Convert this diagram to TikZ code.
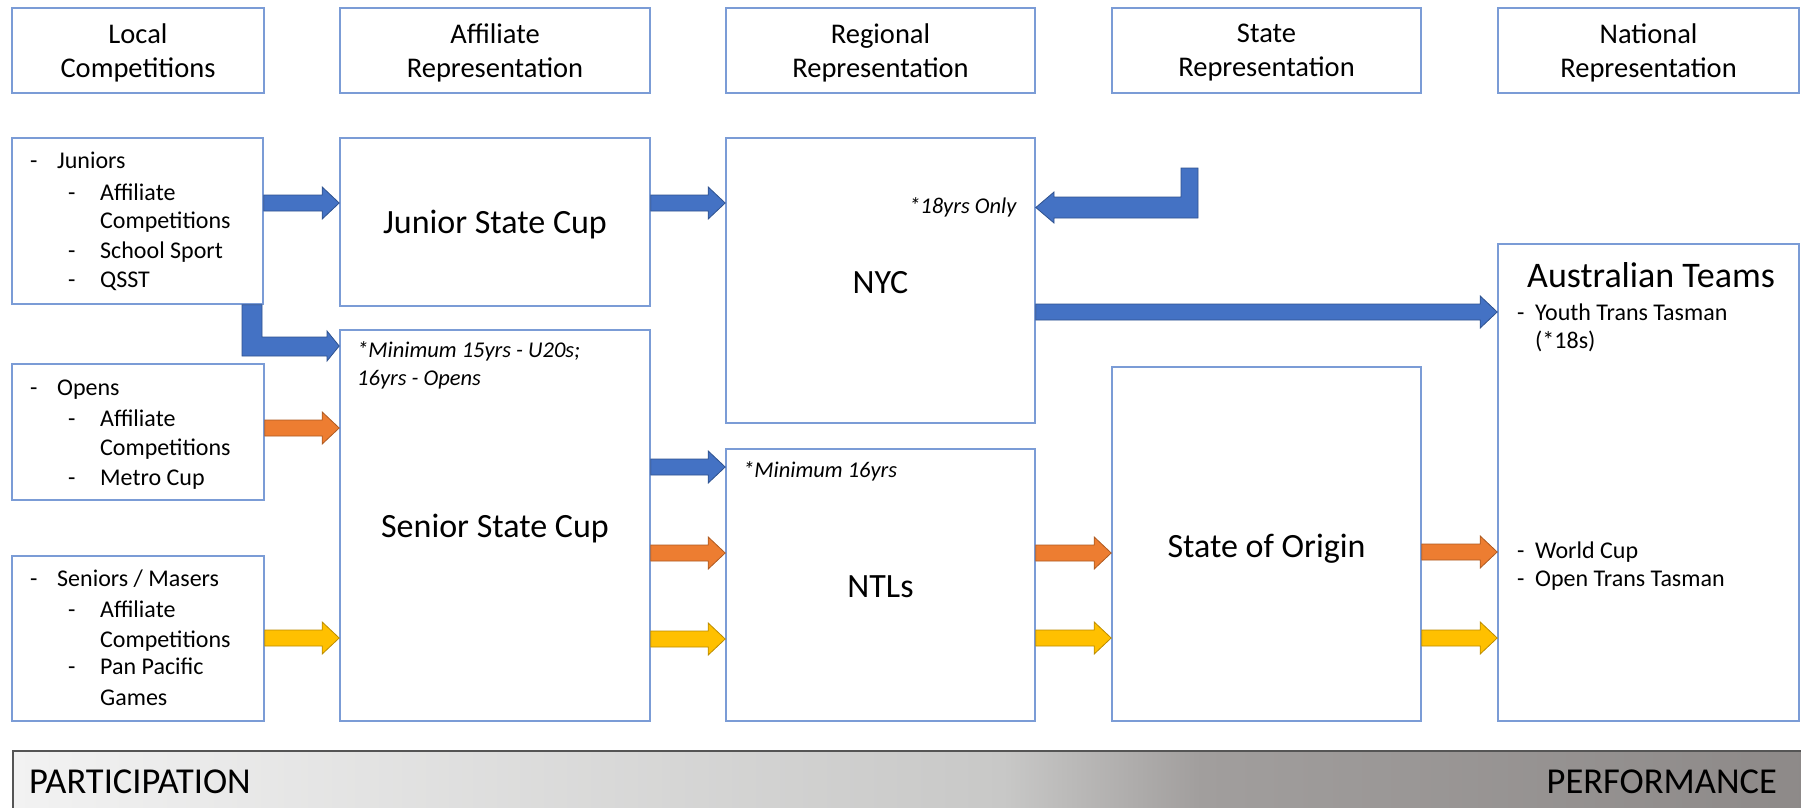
\documentclass[tikz,border=0pt]{standalone}
\usepackage{fontspec}
\setmainfont{Carlito}
\usetikzlibrary{calc}
\definecolor{boxc}{HTML}{7B9CD6}
\definecolor{ablue}{HTML}{4472C4}
\definecolor{ablueD}{HTML}{2F528F}
\definecolor{aor}{HTML}{ED7D31}
\definecolor{aorD}{HTML}{AE5A21}
\definecolor{aye}{HTML}{FFC000}
\definecolor{ayeD}{HTML}{BC8C00}
\definecolor{gA}{HTML}{F2F2F2}
\definecolor{gB}{HTML}{C8C8C7}
\definecolor{gC}{HTML}{A19E9D}
\definecolor{gD}{HTML}{8D8988}
\definecolor{barline}{HTML}{555555}
\pgfdeclarehorizontalshading{barshade}{100bp}{color(0bp)=(gA); color(25bp)=(gA); color(52.5bp)=(gB); color(58bp)=(gC); color(75bp)=(gD); color(100bp)=(gD)}
% block arrow: from point #1 to point #2 at height #3, fill #4, outline #5
\newcommand\blockarrow[5]{%
  \draw[draw=#5, fill=#4, line width=0.8pt, line join=miter]
    let \p1=(#1 |- 0,#3), \p2=(#2 |- 0,#3) in
    (\x1,\y1+8pt) -- (\x2-17pt,\y1+8pt) -- (\x2-17pt,\y1+16pt) -- (\x2,\y1)
    -- (\x2-17pt,\y1-16pt) -- (\x2-17pt,\y1-8pt) -- (\x1,\y1-8pt) -- cycle;}
\tikzset{
  box/.style={draw=boxc, line width=1.6pt, inner sep=0pt},
  hdrtext/.style={font=\fontsize{28.5}{34}\selectfont, align=center, inner sep=0pt},
  lbl/.style={font=\fontsize{34}{40}\selectfont, anchor=base, inner sep=0pt},
  item/.style={font=\fontsize{24}{28}\selectfont, anchor=base west, inner sep=0pt},
  note/.style={font=\fontsize{22.5}{27}\selectfont\itshape, anchor=base west, inner sep=0pt},
  bartext/.style={font=\fontsize{36.5}{42}\selectfont, inner sep=0pt},
  bentblue/.style={draw=ablueD, fill=ablue, line width=0.8pt, line join=miter}
}
\begin{document}
\begin{tikzpicture}[x=1pt,y=-1pt]
\useasboundingbox (0,0) rectangle (1801,808);
\clip (0,0) rectangle (1801,808);
\fill[white] (0,0) rectangle (1801,808);

% header boxes
\node[box, minimum width=252pt, minimum height=85pt] (h1) at (138,50.5) {};
\node[box, minimum width=310pt, minimum height=85pt] (h2) at (495,50.5) {};
\node[box, minimum width=309pt, minimum height=85pt] (h3) at (880.5,50.5) {};
\node[box, minimum width=309pt, minimum height=85pt] (h4) at (1266.5,50.5) {};
\node[box, minimum width=301pt, minimum height=85pt] (h5) at (1648.5,50.5) {};
\node[hdrtext] (h1t) at ([yshift=-2.5pt]h1.center) {Local\\Competitions};
\node[hdrtext] (h2t) at ([yshift=-2.5pt]h2.center) {Affiliate\\Representation};
\node[hdrtext] (h3t) at ([yshift=-2.5pt]h3.center) {Regional\\Representation};
\node[hdrtext] (h4t) at ([yshift=-2.5pt]h4.center) {State\\Representation};
\node[hdrtext] (h5t) at ([yshift=-2.5pt]h5.center) {National\\Representation};

% local competition boxes
\node[box, minimum width=251pt, minimum height=166pt] (jr) at (137.5,221) {};
\node[box, minimum width=252pt, minimum height=136pt] (op) at (138,432) {};
\node[box, minimum width=252pt, minimum height=165pt] (sn) at (138,638.5) {};

% affiliate
\node[box, minimum width=310pt, minimum height=168pt] (jsc) at (495,222) {};
\node[box, minimum width=310pt, minimum height=391pt] (ssc) at (495,525.5) {};

% regional
\node[box, minimum width=309pt, minimum height=285pt] (nyc) at (880.5,280.5) {};
\node[box, minimum width=309pt, minimum height=272pt] (ntl) at (880.5,585) {};

% state
\node[box, minimum width=309pt, minimum height=354pt] (soo) at (1266.5,544) {};

% national
\node[box, minimum width=301pt, minimum height=477pt] (aus) at (1648.5,482.5) {};

% main labels
\node[lbl] (jscl) at (jsc.center |- 0,233) {Junior State Cup};
\node[lbl] (sscl) at (ssc.center |- 0,537) {Senior State Cup};
\node[lbl] (nycl) at (nyc.center |- 0,293) {NYC};
\node[lbl] (ntll) at (ntl.center |- 0,597) {NTLs};
\node[lbl] (sool) at (soo.center |- 0,557) {State of Origin};
\node[lbl, font=\fontsize{36}{42}\selectfont] (ausl) at (1651,287) {Australian Teams};

% notes
\node[note] (n1) at (357,357) {*Minimum 15yrs - U20s;};
\node[note] (n2) at (357,385) {16yrs - Opens};
\node[note] (n3) at (909,213) {*18yrs Only};
\node[note] (n4) at (743,477) {*Minimum 16yrs};

% juniors list
\node[item] (j0d) at (30,168) {-};
\node[item] (j0) at (57,168) {Juniors};
\node[item] (j1d) at (68,200) {-};
\node[item] (j1) at (100,200) {Affiliate};
\node[item] (j1b) at (100,228) {Competitions};
\node[item] (j2d) at (68,258) {-};
\node[item] (j2) at (100,258) {School Sport};
\node[item] (j3d) at (68,287) {-};
\node[item] (j3) at (100,287) {QSST};

% opens list
\node[item] (o0d) at (30,395) {-};
\node[item] (o0) at (57,395) {Opens};
\node[item] (o1d) at (68,426) {-};
\node[item] (o1) at (100,426) {Affiliate};
\node[item] (o1b) at (100,455) {Competitions};
\node[item] (o2d) at (68,485) {-};
\node[item] (o2) at (100,485) {Metro Cup};

% seniors list
\node[item] (s0d) at (30,586) {-};
\node[item] (s0) at (57,586) {Seniors / Masers};
\node[item] (s1d) at (68,617) {-};
\node[item] (s1) at (100,617) {Affiliate};
\node[item] (s1b) at (100,647) {Competitions};
\node[item] (s2d) at (68,674) {-};
\node[item] (s2) at (100,674) {Pan Pacific};
\node[item] (s2b) at (100,705) {Games};

% australian teams list
\node[item] (a1d) at (1517,320) {-};
\node[item] (a1) at (1535,320) {Youth Trans Tasman};
\node[item] (a1b) at (1535,348) {(*18s)};
\node[item] (a2d) at (1517,558) {-};
\node[item] (a2) at (1535,558) {World Cup};
\node[item] (a3d) at (1517,586) {-};
\node[item] (a3) at (1535,586) {Open Trans Tasman};

% straight block arrows
\blockarrow{jr.east}{jsc.west}{203}{ablue}{ablueD}
\blockarrow{jsc.east}{nyc.west}{203}{ablue}{ablueD}
\blockarrow{op.east}{ssc.west}{428}{aor}{aorD}
\blockarrow{sn.east}{ssc.west}{638}{aye}{ayeD}
\blockarrow{ssc.east}{ntl.west}{467}{ablue}{ablueD}
\blockarrow{ssc.east}{ntl.west}{553}{aor}{aorD}
\blockarrow{ssc.east}{ntl.west}{639}{aye}{ayeD}
\blockarrow{ntl.east}{soo.west}{553}{aor}{aorD}
\blockarrow{ntl.east}{soo.west}{638}{aye}{ayeD}
\blockarrow{soo.east}{aus.west}{552}{aor}{aorD}
\blockarrow{soo.east}{aus.west}{638}{aye}{ayeD}
\blockarrow{nyc.east}{aus.west}{312}{ablue}{ablueD}

% bent arrow: juniors down to senior state cup
\draw[bentblue] (jr.south -| 242,0) -- (jr.south -| 262,0) -- (262,337) -- (327,337)
  -- (327,331) -- (ssc.west |- 0,346) -- (327,361) -- (327,356) -- (242,356) -- cycle;

% bent arrow: from state level into NYC
\coordinate (stsrc) at (1189.5,168);
\draw[bentblue] (stsrc -| 1198,0) -- (1198,218) -- (1054,218) -- (1054,223)
  -- (nyc.east |- 0,207.5) -- (1054,192) -- (1054,197) -- (1181,197) -- (stsrc -| 1181,0) -- cycle;

% bottom bar
\node[draw=barline, line width=2pt, shading=barshade, minimum width=1800pt, minimum height=80pt, anchor=north west, inner sep=0pt] (bar) at (12,750) {};
\node[bartext, anchor=base west] (part) at (29,793) {PARTICIPATION};
\node[bartext, anchor=base east] (perf) at (1777,793) {PERFORMANCE};
\end{tikzpicture}
\end{document}
